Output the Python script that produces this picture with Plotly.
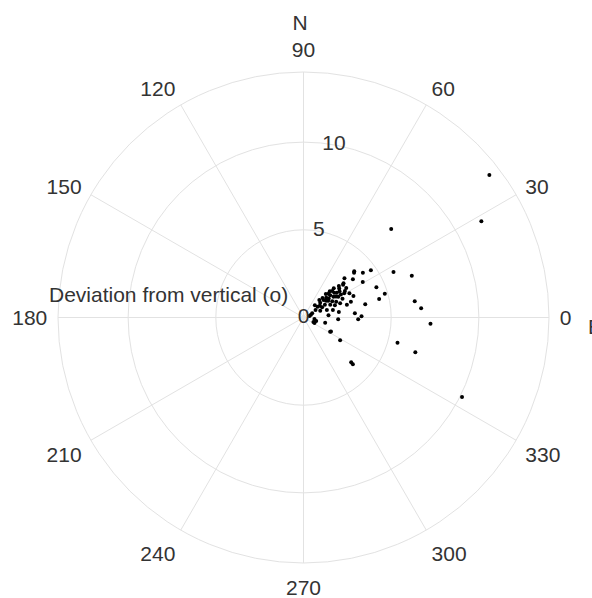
import plotly.graph_objects as go

# Deviation from vertical (degrees) and azimuth (degrees, 0 = E, counterclockwise)
deviation = [
    13.36, 11.53, 7.11, 4.69, 5.75, 6.62, 4.50, 4.83, 4.44, 6.41, 6.73, 7.25, 5.55, 6.68, 10.11,
    4.24, 3.91, 3.85, 3.94, 3.60, 3.31, 3.12, 2.94, 1.98, 1.72, 1.76, 2.46, 3.73, 3.88, 0.70, 1.43,
    3.23, 3.56, 2.93, 2.70, 2.96, 2.23, 2.25, 2.37, 2.54, 1.97, 1.98, 2.08, 2.31, 2.70, 2.96, 2.47,
    1.72, 1.52, 1.70, 1.88, 2.07, 1.27, 1.42, 1.69, 1.92, 2.24, 2.58, 1.01, 1.21, 0.81, 1.03, 1.40,
    1.73, 0.55, 0.35, 2.04, 0.63, 0.75, 1.27, 0.62, 3.10, 2.85,
    2.12, 2.40, 1.85, 1.60, 2.62, 2.80, 1.15, 0.95, 1.35, 2.20, 1.55, 3.00, 2.50, 1.80, 0.45,
]
azimuth = [
    37.5, 28.4, 45.3, 35.0, 26.8, 21.1, 22.5, 16.3, 13.7, 8.3, 4.5, 357.2, 345.0, 342.7, 333.4,
    37.0, 42.3, 41.5, 30.9, 12.1, 1.2, 358.1, 4.7, 357.0, 332.0, 332.9, 328.1, 316.8, 316.5, 333.4, 5.0,
    43.7, 37.7, 39.6, 41.7, 34.6, 42.7, 38.9, 36.6, 36.0, 43.6, 39.7, 34.7, 30.9, 30.7, 27.8, 25.7,
    41.1, 41.2, 34.2, 29.4, 25.8, 41.5, 30.9, 25.6, 21.2, 21.2, 16.4, 37.6, 28.6, 32.0, 22.2, 17.8,
    14.3, 25.8, 14.0, 8.8, 352.0, 344.6, 346.5, 335.8, 23.3, 18.5,
    45.0, 44.0, 46.5, 36.5, 39.0, 32.5, 36.0, 47.0, 48.0, 33.0, 45.5, 40.5, 31.5, 37.0, 20.0,
]

radial_ticks = [0, 5, 10]
radial_tick_labels = ["0", "5", "10"]
angular_ticks = list(range(0, 360, 30))

FONT = "Arial, Liberation Sans, sans-serif"
TXT = "#333333"
GRID = "#e2e2e2"

fig = go.Figure()
fig.add_trace(go.Scatterpolar(
    r=deviation, theta=azimuth, mode="markers",
    marker=dict(color="black", size=4),
    showlegend=False, hoverinfo="r+theta",
))
# radial tick labels drawn along the 80 degree radial direction
fig.add_trace(go.Scatterpolar(
    r=radial_ticks, theta=[80] * len(radial_ticks), mode="text",
    text=radial_tick_labels, textposition="middle center",
    textfont=dict(family=FONT, size=21, color=TXT),
    showlegend=False, hoverinfo="skip", cliponaxis=False,
))

fig.update_layout(
    width=592, height=598,
    margin=dict(l=58, r=43, t=72, b=35),
    paper_bgcolor="white",
    font=dict(family=FONT, size=21, color=TXT),
    title=dict(text="N", x=300 / 592, xanchor="center", y=1 - 22.5 / 598, yanchor="middle",
               font=dict(family=FONT, size=21, color=TXT)),
    polar=dict(
        bgcolor="white",
        radialaxis=dict(
            range=[0, 14], tickvals=[5, 10], showticklabels=False, ticks="",
            showline=False, gridcolor=GRID, angle=80,
        ),
        angularaxis=dict(
            rotation=0, direction="counterclockwise",
            tickvals=angular_ticks, ticktext=[str(a) for a in angular_ticks],
            ticks="outside", ticklen=6, tickcolor="rgba(0,0,0,0)",
            showline=True, linecolor=GRID, gridcolor=GRID,
            tickfont=dict(family=FONT, size=21, color=TXT),
        ),
    ),
    annotations=[
        dict(text="E", xref="paper", yref="paper", x=(586 - 58) / 491, y=(563 - 326) / 491,
             xanchor="left", yanchor="middle", showarrow=False,
             font=dict(family=FONT, size=21, color=TXT)),
        dict(text="Deviation from vertical (o)", xref="paper", yref="paper",
             x=(168.5 - 58) / 491, y=(563 - 294) / 491,
             xanchor="center", yanchor="middle", showarrow=False,
             font=dict(family=FONT, size=21, color=TXT)),
    ],
)

fig.write_html("out.html")
